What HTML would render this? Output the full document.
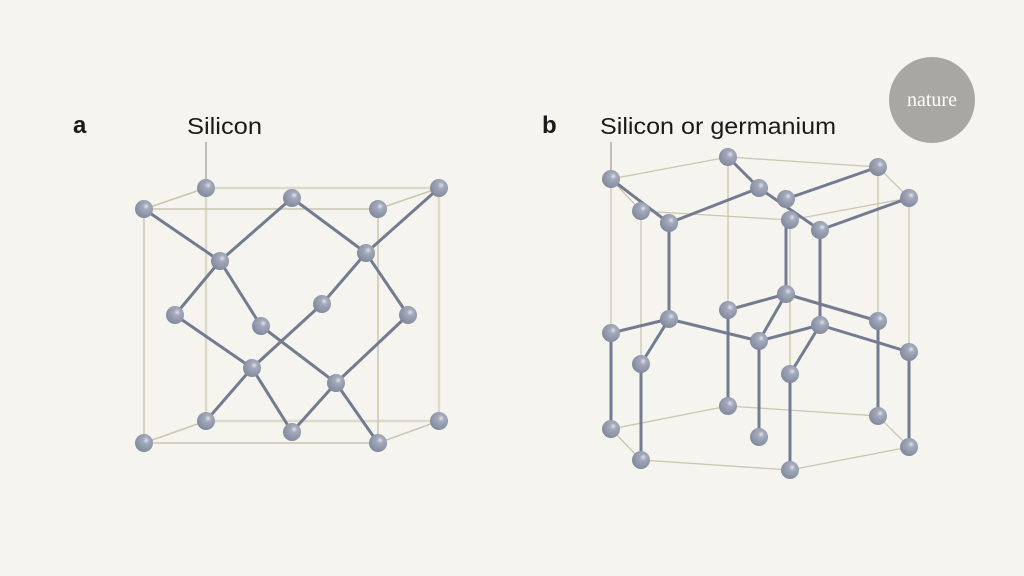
<!DOCTYPE html>
<html><head><meta charset="utf-8"><style>
html,body{margin:0;padding:0;background:#f5f4ee;}
svg{display:block}
</style></head><body>
<svg width="1024" height="576" viewBox="0 0 1024 576" xmlns="http://www.w3.org/2000/svg">
<defs>
<radialGradient id="g" cx="0.62" cy="0.35" r="0.7">
<stop offset="0" stop-color="#dfe2ea"/><stop offset="0.25" stop-color="#a3aabb"/><stop offset="1" stop-color="#7f879b"/>
</radialGradient>
</defs>
<rect width="1024" height="576" fill="#f5f4ee"/>
<!-- labels -->
<text x="73" y="133" font-family="Liberation Sans, sans-serif" font-weight="bold" font-size="24" fill="#1a1a1a">a</text>
<text x="187" y="134" font-family="Liberation Sans, sans-serif" font-size="23" textLength="75" lengthAdjust="spacingAndGlyphs" fill="#1a1a1a">Silicon</text>
<text x="542" y="133" font-family="Liberation Sans, sans-serif" font-weight="bold" font-size="24" fill="#1a1a1a">b</text>
<text x="600" y="134" font-family="Liberation Sans, sans-serif" font-size="23" textLength="236" lengthAdjust="spacingAndGlyphs" fill="#1a1a1a">Silicon or germanium</text>
<circle cx="932" cy="100" r="43" fill="#a8a7a2"/>
<text x="932" y="106" text-anchor="middle" font-family="Liberation Serif, serif" font-size="20" fill="#fff">nature</text>
<g stroke="#999" stroke-width="1.2"><line x1="206" y1="142" x2="206" y2="188"/><line x1="611" y1="142" x2="611" y2="179"/></g>
<!-- panel a box -->
<g stroke="#c9c7ae" stroke-width="1.5" fill="none">
<rect x="206" y="188" width="233" height="233" stroke="#dcdaca" stroke-width="2.5"/>
<rect x="144" y="209" width="234" height="234"/>
<line x1="144" y1="209" x2="206" y2="188"/><line x1="378" y1="209" x2="439" y2="188"/>
<line x1="144" y1="443" x2="206" y2="421"/><line x1="378" y1="443" x2="439" y2="421"/>
</g>
<g stroke="#737b91" stroke-width="3" stroke-linecap="round">
<line x1="144" y1="209" x2="220" y2="261"/><line x1="220" y1="261" x2="292" y2="198"/>
<line x1="292" y1="198" x2="366" y2="253"/><line x1="366" y1="253" x2="439" y2="188"/>
<line x1="220" y1="261" x2="175" y2="315"/><line x1="220" y1="261" x2="261" y2="326"/>
<line x1="366" y1="253" x2="322" y2="304"/><line x1="366" y1="253" x2="408" y2="315"/>
<line x1="175" y1="315" x2="252" y2="368"/><line x1="261" y1="326" x2="336" y2="383"/>
<line x1="322" y1="304" x2="252" y2="368"/><line x1="408" y1="315" x2="336" y2="383"/>
<line x1="252" y1="368" x2="206" y2="421"/><line x1="252" y1="368" x2="292" y2="432"/>
<line x1="336" y1="383" x2="292" y2="432"/><line x1="336" y1="383" x2="378" y2="443"/>
</g>
<g fill="url(#g)">
<circle cx="206" cy="188" r="9"/><circle cx="144" cy="209" r="9"/><circle cx="292" cy="198" r="9"/><circle cx="378" cy="209" r="9"/><circle cx="439" cy="188" r="9"/>
<circle cx="220" cy="261" r="9"/><circle cx="366" cy="253" r="9"/><circle cx="175" cy="315" r="9"/><circle cx="261" cy="326" r="9"/><circle cx="322" cy="304" r="9"/><circle cx="408" cy="315" r="9"/>
<circle cx="252" cy="368" r="9"/><circle cx="336" cy="383" r="9"/><circle cx="206" cy="421" r="9"/><circle cx="292" cy="432" r="9"/><circle cx="144" cy="443" r="9"/><circle cx="378" cy="443" r="9"/><circle cx="439" cy="421" r="9"/>
</g>
<!-- panel b -->
<g stroke="#c9c7ae" stroke-width="1.3" fill="none">
<polygon points="611,179 728,157 878,167 909,198 790,220 641,211"/>
<polygon points="611,429 728,406 878,416 909,447 790,470 641,460"/>
<line x1="611" y1="179" x2="611" y2="429"/><line x1="728" y1="157" x2="728" y2="406"/>
<line x1="878" y1="167" x2="878" y2="416"/><line x1="909" y1="198" x2="909" y2="447"/>
<line x1="641" y1="211" x2="641" y2="460"/><line x1="790" y1="220" x2="790" y2="470"/>
</g>
<g stroke="#737b91" stroke-width="3" stroke-linecap="round">
<line x1="611" y1="179" x2="669" y2="223"/><line x1="669" y1="223" x2="759" y2="188"/>
<line x1="728" y1="157" x2="759" y2="188"/><line x1="759" y1="188" x2="820" y2="230"/>
<line x1="786" y1="199" x2="878" y2="167"/><line x1="820" y1="230" x2="909" y2="198"/>
<line x1="669" y1="223" x2="669" y2="319"/><line x1="786" y1="220" x2="786" y2="294"/><line x1="820" y1="230" x2="820" y2="325"/>
<line x1="669" y1="319" x2="611" y2="333"/><line x1="669" y1="319" x2="641" y2="364"/><line x1="669" y1="319" x2="759" y2="341"/>
<line x1="786" y1="294" x2="728" y2="310"/><line x1="786" y1="294" x2="759" y2="341"/><line x1="786" y1="294" x2="878" y2="321"/>
<line x1="820" y1="325" x2="759" y2="341"/><line x1="820" y1="325" x2="790" y2="374"/><line x1="820" y1="325" x2="909" y2="352"/>
<line x1="611" y1="333" x2="611" y2="429"/><line x1="641" y1="364" x2="641" y2="460"/><line x1="728" y1="310" x2="728" y2="406"/>
<line x1="759" y1="341" x2="759" y2="437"/><line x1="790" y1="374" x2="790" y2="470"/><line x1="878" y1="321" x2="878" y2="416"/><line x1="909" y1="352" x2="909" y2="447"/>
</g>
<g fill="url(#g)">
<circle cx="611" cy="179" r="9"/><circle cx="728" cy="157" r="9"/><circle cx="878" cy="167" r="9"/><circle cx="909" cy="198" r="9"/>
<circle cx="641" cy="211" r="9"/><circle cx="669" cy="223" r="9"/><circle cx="759" cy="188" r="9"/><circle cx="786" cy="199" r="9"/><circle cx="790" cy="220" r="9"/><circle cx="820" cy="230" r="9"/>
<circle cx="786" cy="294" r="9"/><circle cx="728" cy="310" r="9"/><circle cx="669" cy="319" r="9"/><circle cx="611" cy="333" r="9"/><circle cx="759" cy="341" r="9"/><circle cx="820" cy="325" r="9"/><circle cx="878" cy="321" r="9"/><circle cx="909" cy="352" r="9"/><circle cx="641" cy="364" r="9"/><circle cx="790" cy="374" r="9"/>
<circle cx="728" cy="406" r="9"/><circle cx="878" cy="416" r="9"/><circle cx="611" cy="429" r="9"/><circle cx="759" cy="437" r="9"/><circle cx="641" cy="460" r="9"/><circle cx="790" cy="470" r="9"/><circle cx="909" cy="447" r="9"/>
</g>
</svg>
</body></html>
